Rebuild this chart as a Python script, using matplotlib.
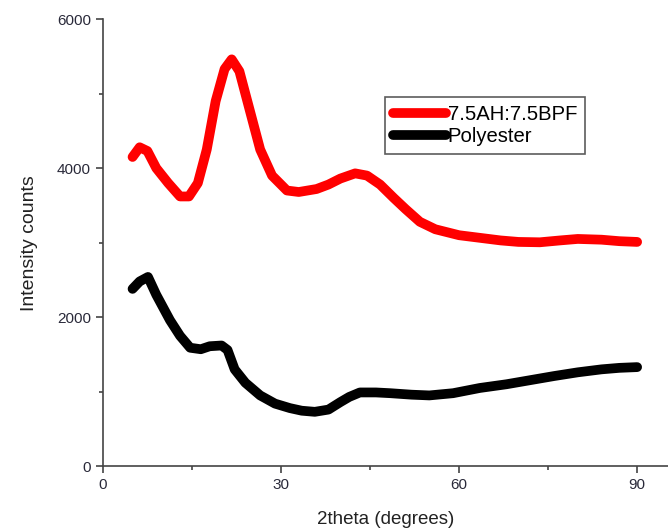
import numpy as np
import matplotlib
matplotlib.use("Agg")
import matplotlib.pyplot as plt
from matplotlib.ticker import MultipleLocator

plt.rcParams['font.family'] = ['Liberation Sans', 'DejaVu Sans']

# values (2theta in degrees, intensity counts)
theta_red = [5, 6.2, 7.5, 9, 11, 13, 14.5, 16, 17.5, 19, 20.5, 21.7, 23, 24.5, 26.5, 28.5,
             31, 33, 36, 38, 40, 42.5, 44.5, 46.7, 49, 51, 53.4, 56, 60, 64, 67, 70,
             73.6, 77, 80, 84, 87, 90]
counts_red = [4150, 4280, 4230, 4000, 3800, 3620, 3620, 3800, 4250, 4900, 5330, 5460, 5300,
              4850, 4250, 3900, 3700, 3680, 3720, 3780, 3860, 3930, 3900, 3780, 3600, 3450,
              3280, 3180, 3100, 3060, 3030, 3010, 3005, 3030, 3050, 3040, 3020, 3010]

theta_blk = [5, 6.2, 7.6, 9, 11.3, 13, 14.7, 16.5, 18, 20, 21, 22.2, 24, 26.5, 29, 31.5,
             33.5, 35.7, 38, 40, 41.5, 43.3, 46, 48.4, 52, 55, 59, 63.5, 68, 72, 76,
             80, 84, 87, 90]
counts_blk = [2380, 2480, 2540, 2300, 1960, 1750, 1590, 1570, 1610, 1620, 1560, 1300, 1120,
              950, 840, 780, 745, 730, 760, 860, 930, 990, 990, 980, 960, 950, 980, 1050,
              1100, 1155, 1210, 1260, 1300, 1320, 1330]

series_names = ['7.5AH:7.5BPF', 'Polyester']

fig = plt.figure(figsize=(6.68, 5.31), dpi=100)
ax = fig.add_axes([0.154, 0.122, 0.846, 0.842])

ax.plot(theta_red, counts_red, color='#ff0000', lw=7, solid_joinstyle='round',
        solid_capstyle='round', label=series_names[0])
ax.plot(theta_blk, counts_blk, color='black', lw=7, solid_joinstyle='round',
        solid_capstyle='round', label=series_names[1])

ax.set_xlim(0, 95.2)
ax.set_ylim(0, 6000)
ax.xaxis.set_major_locator(MultipleLocator(30))
ax.xaxis.set_minor_locator(MultipleLocator(15))
ax.yaxis.set_major_locator(MultipleLocator(2000))
ax.yaxis.set_minor_locator(MultipleLocator(1000))
for side in ['top', 'right']:
    ax.spines[side].set_visible(False)
for side in ['left', 'bottom']:
    ax.spines[side].set_color('#444444')
    ax.spines[side].set_linewidth(1.2)
ax.tick_params(which='both', direction='out', colors='#444444', labelcolor='#2a2a3a',
               labelsize=11, width=1.2)
ax.tick_params(which='major', length=5)
ax.tick_params(which='minor', length=3)

ax.set_xlabel('2theta (degrees)', fontsize=13.5, color='#222222', labelpad=14)
ax.set_ylabel('Intensity counts', fontsize=14, color='#222222', labelpad=14)

leg = ax.legend(loc='upper left', bbox_to_anchor=(0.499, 0.826), fontsize=14.6,
                frameon=True, fancybox=False, handlelength=2.6, handletextpad=0.1,
                borderpad=0.4, labelspacing=0.15, borderaxespad=0)
leg.get_frame().set_edgecolor('#333333')
leg.get_frame().set_linewidth(1.2)

fig.savefig('out.png', dpi=100)
